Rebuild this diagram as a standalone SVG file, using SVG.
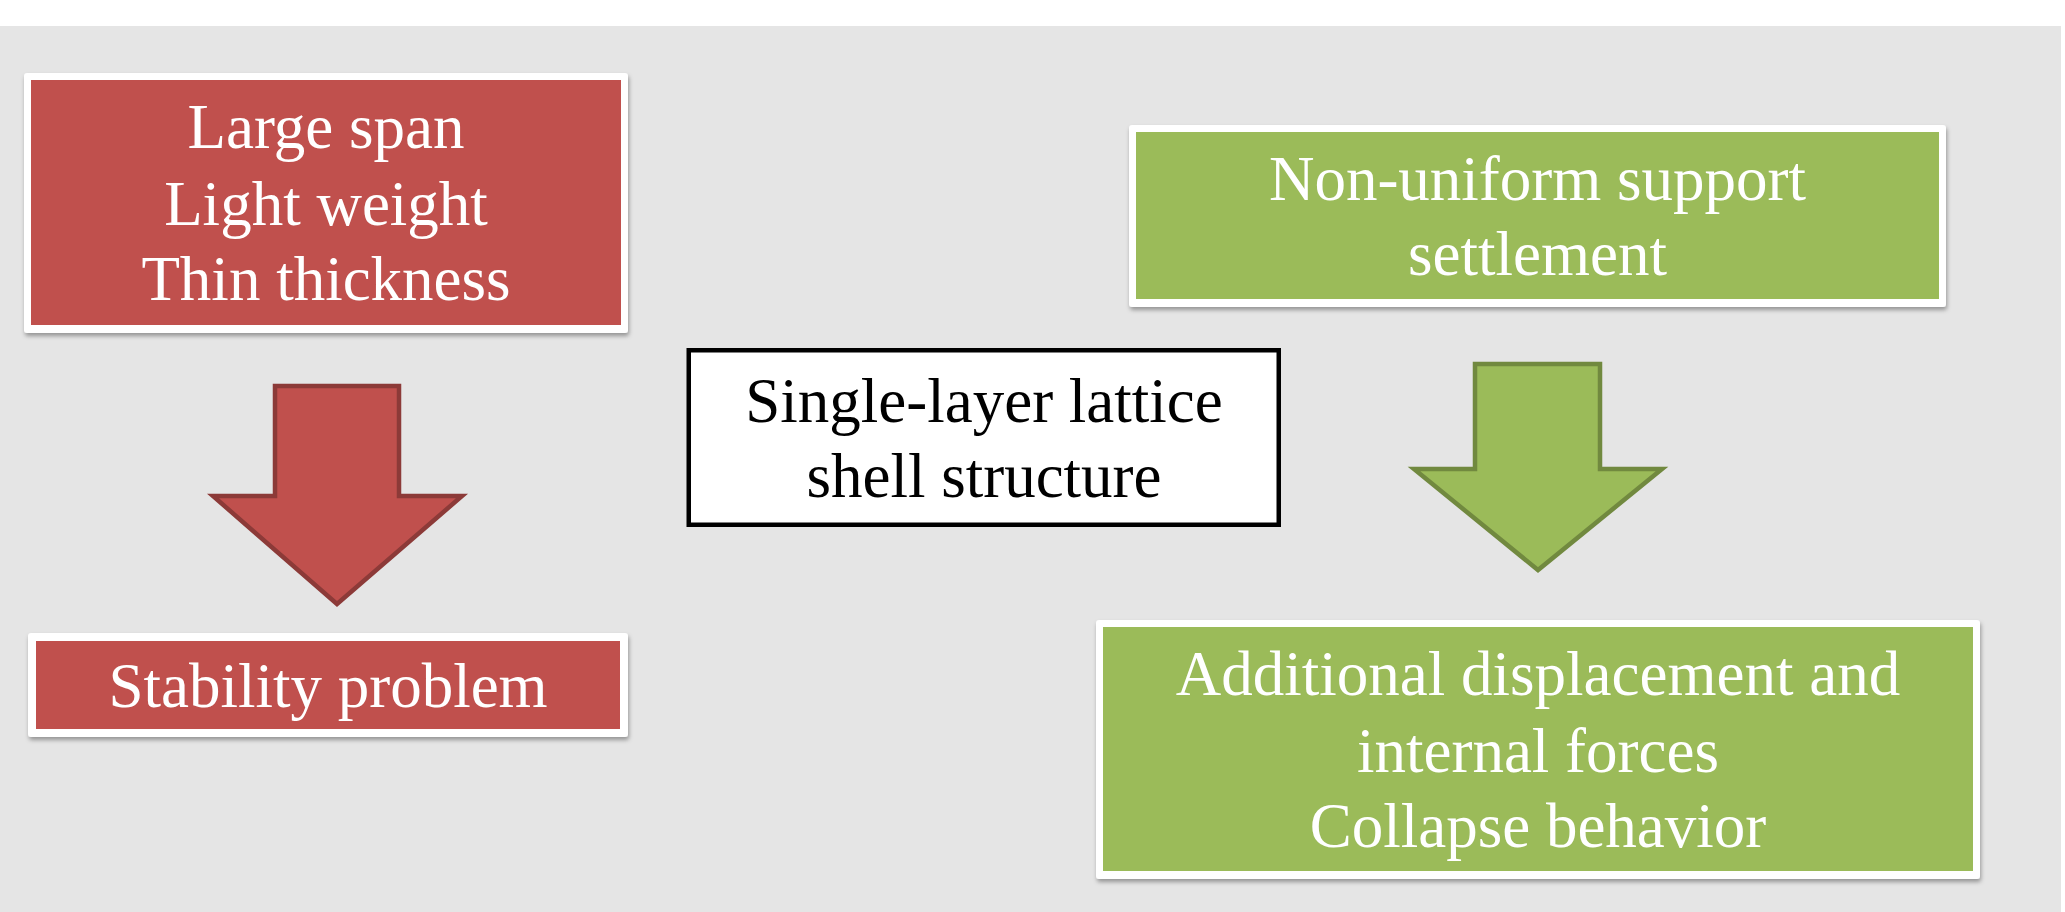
<svg xmlns="http://www.w3.org/2000/svg" width="2065" height="912" viewBox="0 0 2065 912">
  <defs>
    <filter id="sh" x="-5%" y="-10%" width="110%" height="125%">
      <feDropShadow dx="1" dy="3" stdDeviation="2" flood-color="#000" flood-opacity="0.35"/>
    </filter>
  </defs>
  <style>
    .frame { fill: #ffffff; filter: url(#sh); }
    .red { fill: #c0504d; }
    .green { fill: #9bbb59; }
    .t { font-family: "Liberation Serif", "Times New Roman", serif; font-size: 63px; text-anchor: middle; fill: #ffffff; }
    .tb { fill: #000000; }
    .arrR { fill: #c0504d; stroke: #8c3a38; stroke-width: 4.5; stroke-linejoin: miter; }
    .arrG { fill: #9bbb59; stroke: #71893f; stroke-width: 4.5; stroke-linejoin: miter; }
  </style>
  <rect x="0" y="0" width="2065" height="912" fill="#ffffff"/>
  <rect x="0" y="26" width="2061" height="886" fill="#e5e5e5"/>

  <g id="node-properties">
    <rect class="frame" x="24" y="73" width="604" height="260" rx="3"/>
    <rect class="red" x="31" y="80" width="590" height="245"/>
    <text class="t" x="326" y="148">Large span</text>
    <text class="t" x="326" y="225">Light weight</text>
    <text class="t" x="326" y="300">Thin thickness</text>
  </g>

  <g id="node-stability">
    <rect class="frame" x="28" y="633" width="600" height="104" rx="3"/>
    <rect class="red" x="36" y="641" width="584" height="88"/>
    <text class="t" x="328" y="707">Stability problem</text>
  </g>

  <g id="node-structure">
    <rect x="688.75" y="350.25" width="590" height="174.5" fill="#ffffff" stroke="#000000" stroke-width="4.5"/>
    <text class="t tb" x="984" y="422">Single-layer lattice</text>
    <text class="t tb" x="984" y="497">shell structure</text>
  </g>

  <g id="node-settlement">
    <rect class="frame" x="1129" y="125" width="817" height="182" rx="3"/>
    <rect class="green" x="1136" y="132" width="803" height="167"/>
    <text class="t" x="1537.5" y="200">Non-uniform support</text>
    <text class="t" x="1537.5" y="275">settlement</text>
  </g>

  <g id="node-effects">
    <rect class="frame" x="1096" y="620" width="884" height="259" rx="3"/>
    <rect class="green" x="1103" y="627" width="870" height="244"/>
    <text class="t" x="1538" y="695">Additional displacement and</text>
    <text class="t" x="1538" y="772">internal forces</text>
    <text class="t" x="1538" y="847">Collapse behavior</text>
  </g>

  <g id="connectors">
    <path class="arrR" d="M275,386 H399 V496 H462 L337,604 L213,496 H275 Z"/>
    <path class="arrG" d="M1475,364 H1600 V469 H1662 L1538,570 L1414,469 H1475 Z"/>
  </g>
</svg>
